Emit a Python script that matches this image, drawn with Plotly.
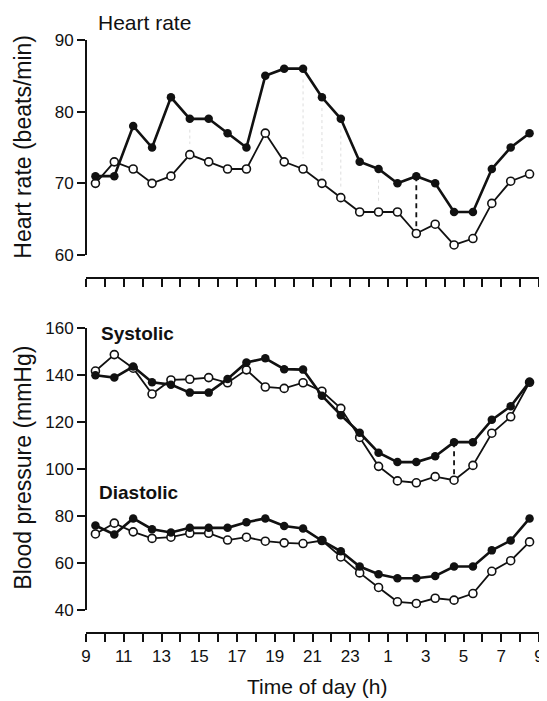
import plotly.graph_objects as go

# Time of measurement (hours from 9:00, half-hour midpoints)
hours = [9.5 + i for i in range(24)]

# Heart rate (beats/min)
hr_filled = [71, 71, 78, 75, 82, 79, 79, 77, 75, 85, 86, 86, 82, 79, 73, 72, 70, 71, 70, 66, 66, 72, 75, 77]
hr_open = [70, 73, 72, 70, 71, 74, 73, 72, 72, 77, 73, 72, 70, 68, 66, 66, 66, 63, 64.3, 61.4, 62.3, 67.2, 70.3, 71.3]

# Systolic blood pressure (mmHg)
sys_filled = [140, 139, 143.7, 137, 136, 132.6, 132.6, 138.4, 145.4, 147.2, 142.6, 142.4, 131.3, 123, 115.5, 107, 103, 103, 105.5, 111.5, 111.5, 121, 126.8, 137.2]
sys_open = [141.8, 148.8, 143, 132, 138, 138.3, 139, 136.8, 142.3, 135, 134.4, 136.8, 133.2, 125.9, 113.5, 101.2, 95, 94.2, 96.8, 95.3, 101.6, 115.3, 122.3, 137]

# Diastolic blood pressure (mmHg)
dia_filled = [76, 72.2, 79, 74.4, 73, 75, 75, 75, 77.4, 79, 75.8, 74.7, 69.5, 65, 58.5, 55.2, 53.5, 53.5, 54.5, 58.5, 58.5, 65.4, 69.6, 79]
dia_open = [72.4, 77, 73.3, 70.5, 71, 72.7, 72.7, 69.8, 71, 69.3, 68.6, 68.3, 69.6, 62.6, 55.8, 49.6, 43.5, 42.8, 45, 44.2, 47, 56.5, 61, 69]

# Tick labels
tick_hours = list(range(9, 34))
tick_text = [str(h % 24) if h % 2 == 1 else "" for h in tick_hours]

# Significance markers (indices)
hr_dashed_idx = 17
sys_dashed_idx = 19
hr_faint_idx = [5, 11, 12, 13, 15]

FONT = "Liberation Sans, Arial, sans-serif"
BLACK = "#111111"

fig = go.Figure()

def add_pair(open_y, filled_y, xa, ya):
    fig.add_trace(go.Scatter(
        x=hours, y=open_y, mode="lines+markers", xaxis=xa, yaxis=ya,
        line=dict(color=BLACK, width=1.8),
        marker=dict(symbol="circle", size=8, color="white", line=dict(color=BLACK, width=1.6)),
        cliponaxis=False, showlegend=False, hoverinfo="x+y"))
    fig.add_trace(go.Scatter(
        x=hours, y=filled_y, mode="lines+markers", xaxis=xa, yaxis=ya,
        line=dict(color=BLACK, width=2.6),
        marker=dict(symbol="circle", size=8.5, color=BLACK),
        cliponaxis=False, showlegend=False, hoverinfo="x+y"))

# faint dotted connectors in heart-rate panel
for i in hr_faint_idx:
    fig.add_trace(go.Scatter(
        x=[hours[i], hours[i]], y=[hr_filled[i] - 1.5, hr_open[i] + 1.5], mode="lines",
        xaxis="x2", yaxis="y2", line=dict(color="#dddddd", width=1, dash="dot"),
        showlegend=False, hoverinfo="skip"))

# dashed significance lines
fig.add_trace(go.Scatter(
    x=[hours[hr_dashed_idx]] * 2, y=[hr_filled[hr_dashed_idx], hr_open[hr_dashed_idx]],
    mode="lines", xaxis="x2", yaxis="y2", line=dict(color=BLACK, width=1.8, dash="5px,4px"),
    showlegend=False, hoverinfo="skip"))
fig.add_trace(go.Scatter(
    x=[hours[sys_dashed_idx]] * 2, y=[sys_filled[sys_dashed_idx], sys_open[sys_dashed_idx]],
    mode="lines", xaxis="x", yaxis="y", line=dict(color=BLACK, width=1.8, dash="5px,4px"),
    showlegend=False, hoverinfo="skip"))

add_pair(hr_open, hr_filled, "x2", "y2")
add_pair(sys_open, sys_filled, "x", "y")
add_pair(dia_open, dia_filled, "x", "y")

axis_common = dict(showline=True, linecolor=BLACK, linewidth=1.8, ticks="outside",
                   tickcolor=BLACK, tickwidth=1.6, showgrid=False, zeroline=False,
                   ticklabeloverflow="allow",
                   tickfont=dict(family=FONT, size=17, color=BLACK))

# page body has an 8px margin; work in figure pixels = page pixels - 8
OFF = 8
W, H = 547 - OFF, 701 - OFF
left_px, right_px = 86 - OFF, 544 - OFF
top_px, bottom_px = 40 - OFF, 633 - OFF
plot_h = bottom_px - top_px
plot_w = right_px - left_px

def frac(py):
    return (bottom_px - (py - OFF)) / plot_h

def px_x(px):
    return ((px - OFF) - left_px) / plot_w

fig.update_layout(
    width=W, height=H,
    margin=dict(l=left_px, r=W - right_px, t=top_px, b=H - bottom_px),
    paper_bgcolor="white", plot_bgcolor="white",
    font=dict(family=FONT, color=BLACK),
    xaxis=dict(domain=[0, 1], range=[9, 33], anchor="free", position=0,
               tickvals=tick_hours, ticktext=tick_text, ticklen=8, **axis_common),
    yaxis=dict(domain=[frac(610), frac(328.3)], range=[40, 160], anchor="free", position=0,
               tickvals=[40, 60, 80, 100, 120, 140, 160], ticklen=8, **axis_common),
    xaxis2=dict(domain=[0, 1], range=[9, 33], anchor="free", position=frac(278),
                tickvals=tick_hours, showticklabels=False, ticklen=8, **axis_common),
    yaxis2=dict(domain=[frac(255), 1], range=[60, 90], anchor="free", position=0,
                tickvals=[60, 70, 80, 90], ticklen=8, **axis_common),
)

def ann(text, x, y, size, bold=False, xanchor="left", angle=0):
    fig.add_annotation(
        text=f"<b>{text}</b>" if bold else text,
        xref="paper", yref="paper", x=x, y=y, xanchor=xanchor, yanchor="middle",
        showarrow=False, textangle=angle,
        font=dict(family=FONT, size=size, color=BLACK))

ann("Heart rate", px_x(96), frac(22), 21)
ann("Systolic", px_x(99), frac(333), 19, bold=True)
ann("Diastolic", px_x(97), frac(492), 19, bold=True)
ann("Heart rate (beats/min)", px_x(22), frac(147), 23, xanchor="center", angle=-90)
ann("Blood pressure (mmHg)", px_x(22), frac(468), 23, xanchor="center", angle=-90)
ann("Time of day (h)", px_x(320), frac(686), 21, xanchor="center")

fig.write_html("out.html")
